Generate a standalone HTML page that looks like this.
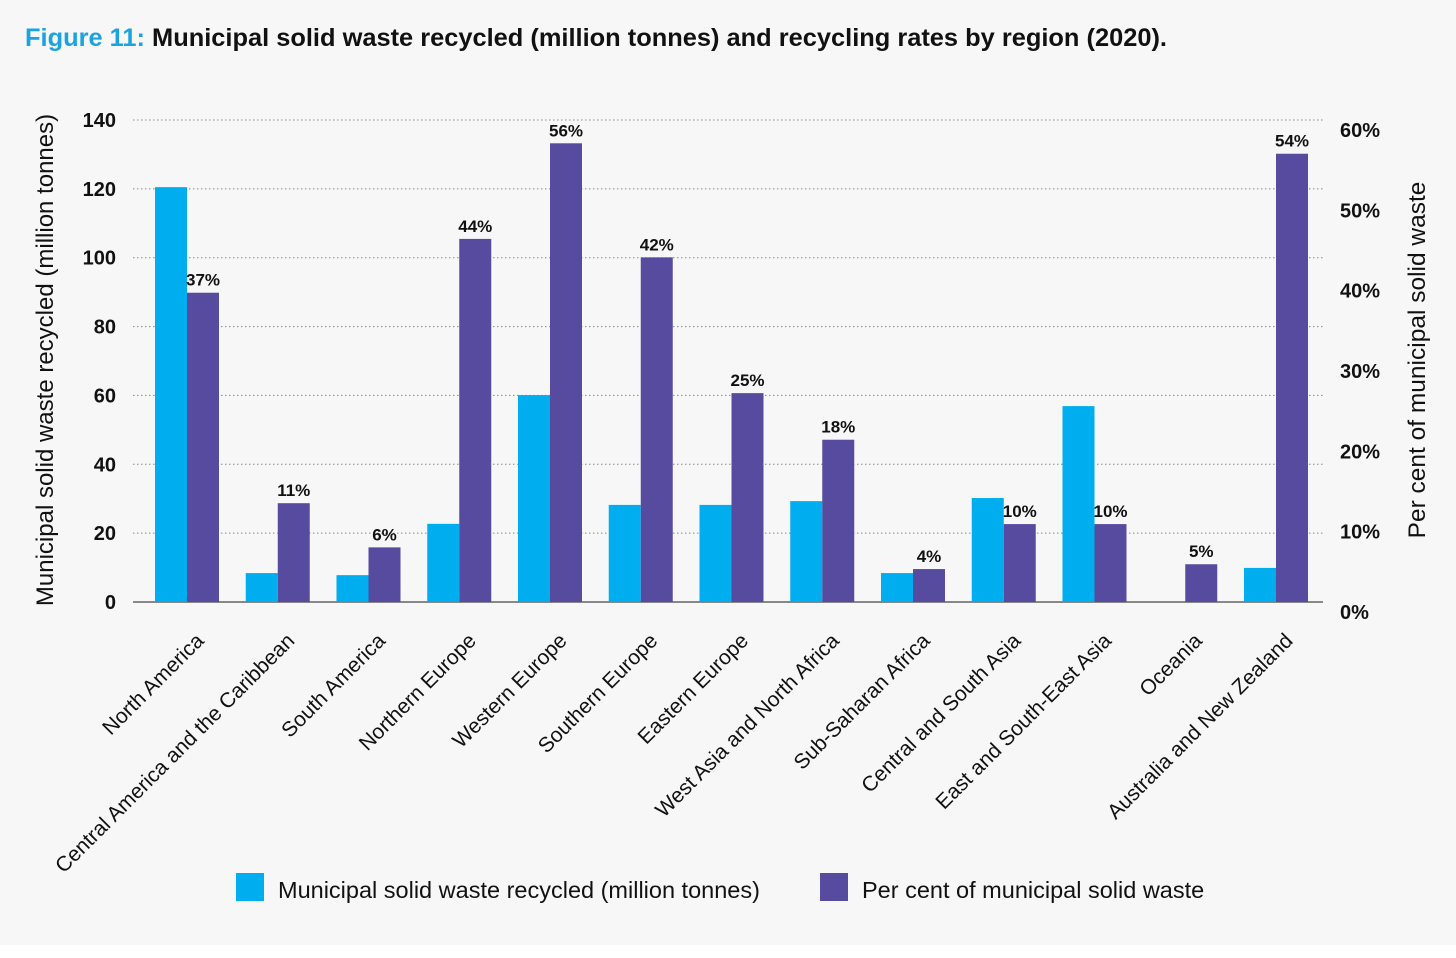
<!DOCTYPE html>
<html><head><meta charset="utf-8"><style>
body{margin:0;background:#f7f7f7;}
svg{display:block;font-family:"Liberation Sans",sans-serif;}
</style></head><body>
<svg id="chart" width="1456" height="958">
<rect x="0" y="0" width="1456" height="945" fill="#f7f7f7"/>
<rect x="0" y="945" width="1456" height="13" fill="#ffffff"/>
<text x="25" y="46" font-size="25" font-weight="bold" textLength="1142" lengthAdjust="spacingAndGlyphs"><tspan fill="#1aa3e0">Figure 11:</tspan><tspan fill="#111"> Municipal solid waste recycled (million tonnes) and recycling rates by region (2020).</tspan></text>
<text transform="translate(53,360) rotate(-90)" text-anchor="middle" font-size="24" fill="#111">Municipal solid waste recycled (million tonnes)</text>
<text transform="translate(1425,360) rotate(-90)" text-anchor="middle" font-size="24.5" fill="#111">Per cent of municipal solid waste</text>
<g id="grid"></g><g id="bars"></g><g id="labels"></g>
<rect x="236" y="873" width="28" height="28" fill="#00aeef"/>
<text x="278" y="898" font-size="23.5" fill="#111">Municipal solid waste recycled (million tonnes)</text>
<rect x="820" y="873" width="28" height="28" fill="#574b9f"/>
<text x="862" y="898" font-size="23.5" fill="#111">Per cent of municipal solid waste</text>
</svg>
<script>
const categories=["North America","Central America and the Caribbean","South America","Northern Europe","Western Europe","Southern Europe","Eastern Europe","West Asia and North Africa","Sub-Saharan Africa","Central and South Asia","East and South-East Asia","Oceania","Australia and New Zealand"];
const tonnes=[120.5,8.4,7.8,22.7,60.1,28.2,28.2,29.3,8.4,30.2,56.9,0,9.9];
const percent=[38.5,12.3,6.8,45.2,57.1,42.9,26.0,20.2,4.1,9.7,9.7,4.7,55.8];
const percentLabels=["37%","11%","6%","44%","56%","42%","25%","18%","4%","10%","10%","5%","54%"];
const leftTicks=[0,20,40,60,80,100,120,140];
const rightTicks=[0,10,20,30,40,50,60];
const NS="http://www.w3.org/2000/svg";
const y0=602,y1=120;
const yL=v=>y0-(v/140)*(y0-y1);
const yR=v=>y0-(v/60)*(y0-y1);
const xC=i=>187+i*90.75;
function mk(tag,attrs,parent,text){const e=document.createElementNS(NS,tag);for(const k in attrs)e.setAttribute(k,attrs[k]);if(text!==undefined)e.textContent=text;parent.appendChild(e);return e;}
const grid=document.getElementById('grid'),bars=document.getElementById('bars'),labels=document.getElementById('labels');
leftTicks.forEach(t=>{
  if(t>0){const l=mk('line',{x1:133,x2:1323,y1:yL(t),y2:yL(t),stroke:'#888','stroke-dasharray':'1.5,2.5','stroke-width':1},grid);
  
  }
  const tx=mk('text',{x:116,y:yL(t)+7,'text-anchor':'end','font-size':20,'font-weight':'bold',fill:'#111'},labels,String(t));
  
  
});
rightTicks.forEach(t=>{
  const tx=mk('text',{x:1340,y:yR(t)+17,'font-size':20,'font-weight':'bold',fill:'#111'},labels,t+'%');
  
  
});
categories.forEach((c,i)=>{
  const x=xC(i);
  const b1=mk('rect',{x:x-32,y:yL(tonnes[i]),width:32,height:y0-yL(tonnes[i]),fill:'#00aeef'},bars);
  
  
  const b2=mk('rect',{x:x,y:yR(percent[i]),width:32,height:y0-yR(percent[i]),fill:'#574b9f'},bars);
  
  
  const v=mk('text',{x:x+16,y:yR(percent[i])-7,'text-anchor':'middle','font-size':17,'font-weight':600,fill:'#111'},labels,percentLabels[i]);
  
  
  const xl=mk('text',{transform:`translate(${x+18},${642}) rotate(-45)`,'text-anchor':'end','font-size':21,fill:'#111'},labels,c);
  
  
});
const ax=mk('line',{x1:133,x2:1323,y1:y0,y2:y0,stroke:'#888','stroke-width':2},grid);


</script>
</body></html>
